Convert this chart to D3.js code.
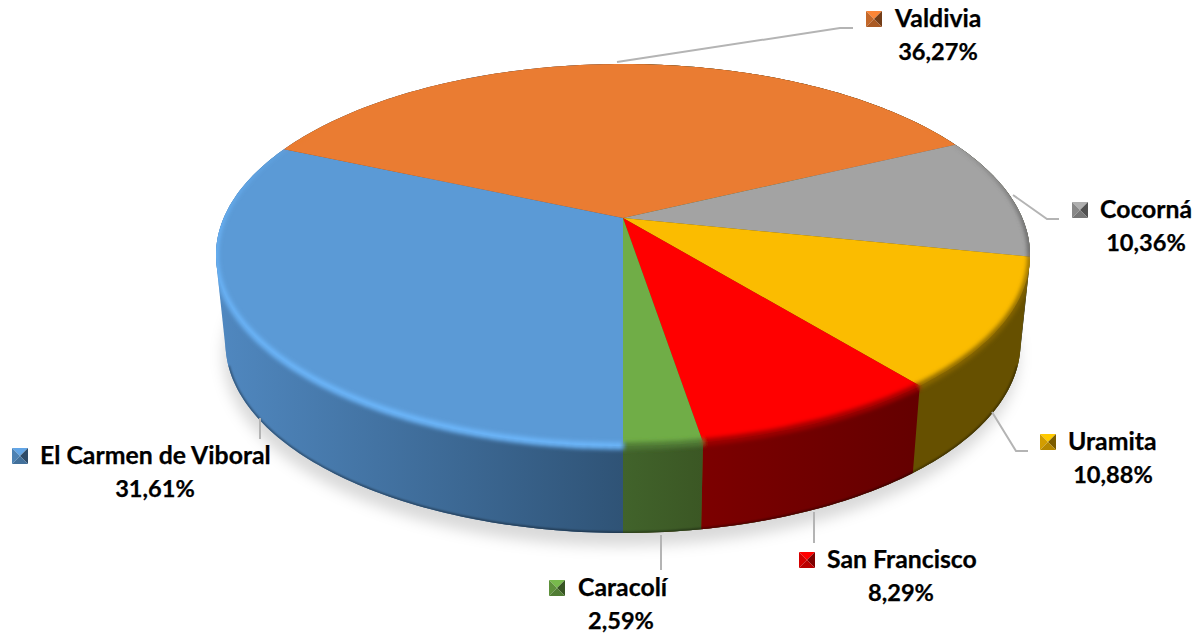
<!DOCTYPE html>
<html>
<head>
<meta charset="utf-8">
<script src="https://cdn.jsdelivr.net/npm/d3@7"></script>
<style>
  html, body { margin: 0; padding: 0; background: #fff; }
  text { font-family: Lato, "Open Sans", sans-serif; font-weight: 700; font-size: 24.8px; fill: #000; stroke: #000; stroke-width: 0.25px; }
  text.pct { font-size: 23.6px; }
</style>
</head>
<body>
<div id="chart"></div>
<script>
// clockwise from the bottom of the pie
var categories = ["El Carmen de Viboral", "Valdivia", "Cocorná", "Uramita", "San Francisco", "Caracolí"];
var shares = [31.61, 36.27, 10.36, 10.88, 8.29, 2.59];
var shareLabels = ["31,61%", "36,27%", "10,36%", "10,88%", "8,29%", "2,59%"];

var faceColors = ["#5b9ad6", "#ea7c32", "#a3a3a3", "#fbbc00", "#ff0000", "#70ad47"];
var rimColors = ["#6cb6fa", "#ea7c32", "#5f5f5f", "#8a6800", "#a00000", "#507a36"];
var wallLeft = ["#5088c0", "#8e4b1d", "#565656", "#665000", "#7c0000", "#41632b"];
var wallRight = ["#2f5376", "#8e4b1d", "#565656", "#665000", "#640000", "#3b5724"];

// key x, baseline y, name x, percent centre x, leader polyline
var labelLayout = [
  { key: 12, y: 464, name: 40, pct: 155, leader: [[260, 418], [260, 439]] },
  { key: 866, y: 27, name: 895, pct: 938, leader: [[617, 62], [840, 28], [853, 28]] },
  { key: 1072, y: 218, name: 1100, pct: 1146, leader: [[1013, 195], [1047, 219], [1059, 219]] },
  { key: 1040, y: 450, name: 1068, pct: 1113, leader: [[992, 412], [1016, 451], [1028, 451]] },
  { key: 799, y: 568, name: 827, pct: 901, leader: [[814, 512], [814, 543]] },
  { key: 549, y: 596, name: 578, pct: 621, leader: [[661, 535], [661, 570]] },
];

var width = 1203, height = 635;
var cx = 623;
var persp = 0.1937; // foreshortening of the tilted disc
var topDisc = { y0: 218, rx: 399.3, ry: 183.8 };
var bottomDisc = { y0: 306, rx: 390, ry: 183 };

// angle is clockwise from the back of the disc
function project(disc, angle, r) {
  var u = r * Math.sin(angle), v = -r * Math.cos(angle);
  var w = 1 - persp * v;
  return [cx + (disc.rx * u) / w, disc.y0 + (disc.ry * v) / w];
}

function arcPoints(disc, a0, a1) {
  var n = Math.max(2, Math.ceil(((a1 - a0) / (2 * Math.PI)) * 360));
  return d3.range(n + 1).map(function (i) {
    return project(disc, a0 + ((a1 - a0) * i) / n, 1);
  });
}

var pie = d3.pie().sort(null).startAngle(Math.PI).endAngle(3 * Math.PI);
var slices = pie(shares);
var line = d3.line();
var color = d3.scaleOrdinal().domain(categories).range(faceColors);

var svg = d3.select("#chart").append("svg").attr("width", width).attr("height", height).style("display", "block");
var defs = svg.append("defs");

defs.append("filter").attr("id", "shadowBlur").attr("x", "-10%").attr("y", "-10%").attr("width", "120%").attr("height", "125%")
  .append("feGaussianBlur").attr("stdDeviation", 7);
defs.append("filter").attr("id", "rimBlur").attr("x", "-5%").attr("y", "-5%").attr("width", "110%").attr("height", "110%")
  .append("feGaussianBlur").attr("stdDeviation", 2);
defs.append("filter").attr("id", "edgeBlur").attr("x", "-5%").attr("y", "-5%").attr("width", "110%").attr("height", "110%")
  .append("feGaussianBlur").attr("stdDeviation", 0.8);

var fullTop = arcPoints(topDisc, 0, 2 * Math.PI);
var fullBottom = arcPoints(bottomDisc, 0, 2 * Math.PI);
var body = d3.polygonHull(fullTop.concat(fullBottom));
var bodyPath = line(body) + "Z";

defs.append("clipPath").attr("id", "bodyClip").append("path").attr("d", bodyPath);

// soft shadow under the pie
svg.append("path")
  .attr("d", line(fullBottom) + "Z")
  .attr("transform", "translate(-2,13)")
  .attr("fill", "#000")
  .attr("fill-opacity", 0.15)
  .attr("filter", "url(#shadowBlur)");

// whole body first, so the parts of the wall beyond the slice ends are filled too
var bodyGrad = defs.append("linearGradient").attr("id", "bodyFill")
  .attr("gradientUnits", "userSpaceOnUse")
  .attr("x1", d3.min(body, function (p) { return p[0]; })).attr("x2", cx)
  .attr("y1", 0).attr("y2", 0);
bodyGrad.append("stop").attr("offset", 0).attr("stop-color", wallLeft[0]);
bodyGrad.append("stop").attr("offset", 1).attr("stop-color", wallRight[0]);
svg.append("path").attr("d", bodyPath).attr("fill", "url(#bodyFill)");
svg.append("rect").attr("x", cx).attr("y", 0).attr("width", width - cx).attr("height", height)
  .attr("fill", wallLeft[3]).attr("clip-path", "url(#bodyClip)");

// side wall, each slice gets a horizontal gradient
var walls = svg.append("g");
slices.forEach(function (s, i) {
  var top = arcPoints(topDisc, s.startAngle, s.endAngle);
  var bot = arcPoints(bottomDisc, s.startAngle, s.endAngle);
  var xs = d3.extent(top, function (p) { return p[0]; });
  var grad = defs.append("linearGradient").attr("id", "wall" + i)
    .attr("gradientUnits", "userSpaceOnUse")
    .attr("x1", xs[0]).attr("x2", xs[1]).attr("y1", 0).attr("y2", 0);
  grad.append("stop").attr("offset", 0).attr("stop-color", wallLeft[i]);
  grad.append("stop").attr("offset", 1).attr("stop-color", wallRight[i]);
  walls.append("path")
    .attr("d", line(top.concat(bot.slice().reverse())) + "Z")
    .attr("fill", "url(#wall" + i + ")");
});

// dark line along the bottom of the wall
svg.append("g").attr("clip-path", "url(#bodyClip)").append("path")
  .attr("d", line(arcPoints(bottomDisc, Math.PI * 0.6, Math.PI * 1.4)))
  .attr("fill", "none")
  .attr("stroke", "#000")
  .attr("stroke-opacity", 0.45)
  .attr("stroke-width", 2.5)
  .attr("filter", "url(#edgeBlur)");

// top face
svg.append("g").selectAll("path").data(slices).join("path")
  .attr("d", function (s) {
    return line([[cx, topDisc.y0]].concat(arcPoints(topDisc, s.startAngle, s.endAngle))) + "Z";
  })
  .attr("fill", function (s, i) { return color(categories[i]); });

// bevel along the rim, fades out towards the back of the disc
var rim = svg.append("g").attr("clip-path", "url(#bodyClip)").append("g").attr("filter", "url(#rimBlur)");
var rimAlpha = d3.scaleLinear().domain([-0.62, 0.05]).range([0, 1]).clamp(true);
var rimWidth = d3.scaleLinear().domain([-0.6, 0.9]).range([2, 7]).clamp(true);
slices.forEach(function (s, i) {
  var pts = arcPoints(topDisc, s.startAngle, s.endAngle);
  var n = pts.length - 1;
  rim.selectAll(null).data(d3.range(n)).join("path")
    .attr("d", function (k) { return line([pts[k], pts[k + 1]]); })
    .attr("fill", "none")
    .attr("stroke", rimColors[i])
    .attr("stroke-linecap", "butt")
    .attr("stroke-opacity", function (k) {
      return rimAlpha(-Math.cos(s.startAngle + ((s.endAngle - s.startAngle) * k) / n));
    })
    .attr("stroke-width", function (k) {
      return rimWidth(-Math.cos(s.startAngle + ((s.endAngle - s.startAngle) * k) / n));
    });
});

// leader lines
svg.append("g").selectAll("path").data(labelLayout).join("path")
  .attr("d", function (d) { return line(d.leader); })
  .attr("fill", "none")
  .attr("stroke", "#b4b4b4")
  .attr("stroke-width", 2);

// labels with the little bevelled legend keys
var label = svg.append("g").selectAll("g").data(labelLayout).join("g");

label.each(function (d, i) {
  var g = d3.select(this);
  var base = d3.color(faceColors[i]);
  var size = 16, x = d.key, y = d.y - size;
  var mid = [x + size / 2, y + size / 2];
  var tl = [x, y], tr = [x + size, y], br = [x + size, y + size], bl = [x, y + size];
  var tris = [
    { pts: [tl, tr, mid], fill: base.brighter(0.2) },
    { pts: [tl, bl, mid], fill: base.darker(0.5) },
    { pts: [tr, br, mid], fill: base.darker(2) },
    { pts: [bl, br, mid], fill: base.darker(0.9) },
  ];
  g.selectAll("path").data(tris).join("path")
    .attr("d", function (t) { return line(t.pts) + "Z"; })
    .attr("fill", function (t) { return t.fill; });
  g.append("text").attr("x", d.name).attr("y", d.y).text(categories[i]);
  g.append("text").attr("class", "pct").attr("x", d.pct).attr("y", d.y + 33).attr("text-anchor", "middle").text(shareLabels[i]);
});
</script>
</body>
</html>
